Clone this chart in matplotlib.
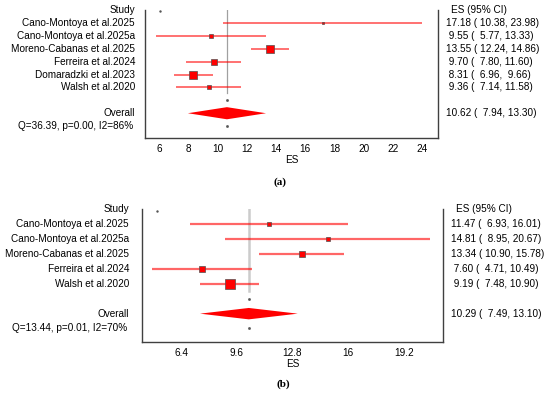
import numpy as np
import matplotlib
matplotlib.use("Agg")
import matplotlib.pyplot as plt
from matplotlib.patches import Polygon
import matplotlib.transforms as mtransforms

plt.rcParams['font.family'] = ['Liberation Sans', 'DejaVu Sans']

# ---------------- data ----------------
studies_a = ["Cano-Montoya et al.2025", "Cano-Montoya et al.2025a",
             "Moreno-Cabanas et al.2025", "Ferreira et al.2024",
             "Domaradzki et al.2023", "Walsh et al.2020"]
es_a = [17.18, 9.55, 13.55, 9.70, 8.31, 9.36]
lo_a = [10.38, 5.77, 12.24, 7.80, 6.96, 7.14]
hi_a = [23.98, 13.33, 14.86, 11.60, 9.66, 11.58]
weights_a = [5.3, 7.1, 29.0, 17.8, 29.0, 11.8]
overall_a = [10.62, 7.94, 13.30]
het_a = "Q=36.39, p=0.00, I2=86%"
ticks_a = [6, 8, 10, 12, 14, 16, 18, 20, 22, 24]

studies_b = ["Cano-Montoya et al.2025", "Cano-Montoya et al.2025a",
             "Moreno-Cabanas et al.2025", "Ferreira et al.2024",
             "Walsh et al.2020"]
es_b = [11.47, 14.81, 13.34, 7.60, 9.19]
lo_b = [6.93, 8.95, 10.90, 4.71, 7.48]
hi_b = [16.01, 20.67, 15.78, 10.49, 10.90]
weights_b = [10.3, 8.2, 18.5, 21.5, 41.5]
overall_b = [10.29, 7.49, 13.10]
het_b = "Q=13.44, p=0.01, I2=70%"
ticks_b = [6.4, 9.6, 12.8, 16.0, 19.2]
tick_labels_b = ["6.4", "9.6", "12.8", "16", "19.2"]

W, H = 550, 395
fig = plt.figure(figsize=(W / 100, H / 100), dpi=100)


def add_axes_px(left, right, top, bottom):
    return fig.add_axes([left / W, 1 - bottom / H, (right - left) / W, (bottom - top) / H])


def forest(ax, studies, es, lo, hi, weights, overall, het, xlim, ticks, tlabels,
           overall_row, het_row, ybottom, box_k, lw, refcolor, reflw, dia_h,
           lab_x, val_x, head_x):
    n = len(studies)
    rows = np.arange(1, n + 1)
    ax.set_xlim(*xlim)
    ax.set_ylim(ybottom, 0)
    # reference line
    ax.plot([overall[0], overall[0]], [0, n + 0.45], color=refcolor, lw=reflw, zorder=1)
    ax.plot([overall[0]], [n + 1.0], marker='s', ms=0.9, color='#555555', lw=0, zorder=1)
    ax.plot([overall[0]], [het_row], marker='s', ms=0.9, color='#555555', lw=0, zorder=1)
    ax.plot([xlim[0] + 0.05 * (xlim[1] - xlim[0])], [0.1], marker='s', ms=0.7,
            color='#555555', lw=0)
    for r, e, l, h, w in zip(rows, es, lo, hi, weights):
        ax.plot([l, h], [r, r], color='red', alpha=0.6, lw=lw, solid_capstyle='butt', zorder=2)
        ax.plot([e], [r], marker='s', ms=box_k * np.sqrt(w) * 0.72, mfc='red',
                mec='#505050', mew=0.5, lw=0, zorder=3)
    d = Polygon([[overall[1], overall_row], [overall[0], overall_row - dia_h],
                 [overall[2], overall_row], [overall[0], overall_row + dia_h]],
                closed=True, facecolor='red', edgecolor='none', zorder=2)
    ax.add_patch(d)

    tr = mtransforms.blended_transform_factory(ax.transAxes, ax.transData)
    fs = 7.2
    ax.text(lab_x, 0, "Study", ha='right', va='center', fontsize=fs, transform=tr)
    for r, s in zip(rows, studies):
        ax.text(lab_x, r, s, ha='right', va='center', fontsize=fs, transform=tr)
    ax.text(lab_x, overall_row, "Overall", ha='right', va='center', fontsize=fs, transform=tr)
    ax.text(lab_x - 0.005, het_row, het, ha='right', va='center', fontsize=fs, transform=tr)

    ax.text(head_x, 0, "ES (95% CI)", ha='left', va='center', fontsize=fs, transform=tr)
    for r, e, l, h in zip(rows, es, lo, hi):
        ax.text(val_x, r, f"{e:5.2f} ({l:6.2f},{h:6.2f})", ha='left', va='center',
                fontsize=fs, transform=tr)
    ax.text(val_x, overall_row, f"{overall[0]:5.2f} ({overall[1]:6.2f},{overall[2]:6.2f})",
            ha='left', va='center', fontsize=fs, transform=tr)

    ax.set_xticks(ticks)
    ax.set_xticklabels(tlabels, fontsize=fs)
    ax.set_yticks([])
    ax.tick_params(axis='x', length=0, pad=4)
    ax.set_xlabel("ES", fontsize=fs, labelpad=1)
    ax.spines['top'].set_visible(False)
    for s in ['left', 'right', 'bottom']:
        ax.spines[s].set_color('#404040')
        ax.spines[s].set_linewidth(1.0)


ax1 = add_axes_px(145, 438, 10, 138)
forest(ax1, studies_a, es_a, lo_a, hi_a, weights_a, overall_a, het_a,
       (5.0, 25.1), ticks_a, [str(t) for t in ticks_a],
       overall_row=8, het_row=9, ybottom=9.92, box_k=1.3, lw=1.3,
       refcolor='#a0a0a0', reflw=0.9, dia_h=0.47,
       lab_x=-0.034, val_x=1.027, head_x=1.044)

ax2 = add_axes_px(142, 443, 209.3, 342)
forest(ax2, studies_b, es_b, lo_b, hi_b, weights_b, overall_b, het_b,
       (4.16, 21.44), ticks_b, tick_labels_b,
       overall_row=6.96, het_row=7.9, ybottom=8.85, box_k=1.4, lw=1.6,
       refcolor='#cccccc', reflw=1.8, dia_h=0.38,
       lab_x=-0.043, val_x=1.027, head_x=1.043)

fig.text(280 / W, 1 - 182 / H, "(a)", ha='center', va='center', fontsize=8,
         family='Liberation Serif', weight='bold')
fig.text(283 / W, 1 - 384 / H, "(b)", ha='center', va='center', fontsize=8,
         family='Liberation Serif', weight='bold')

fig.savefig("out.png", dpi=100)
